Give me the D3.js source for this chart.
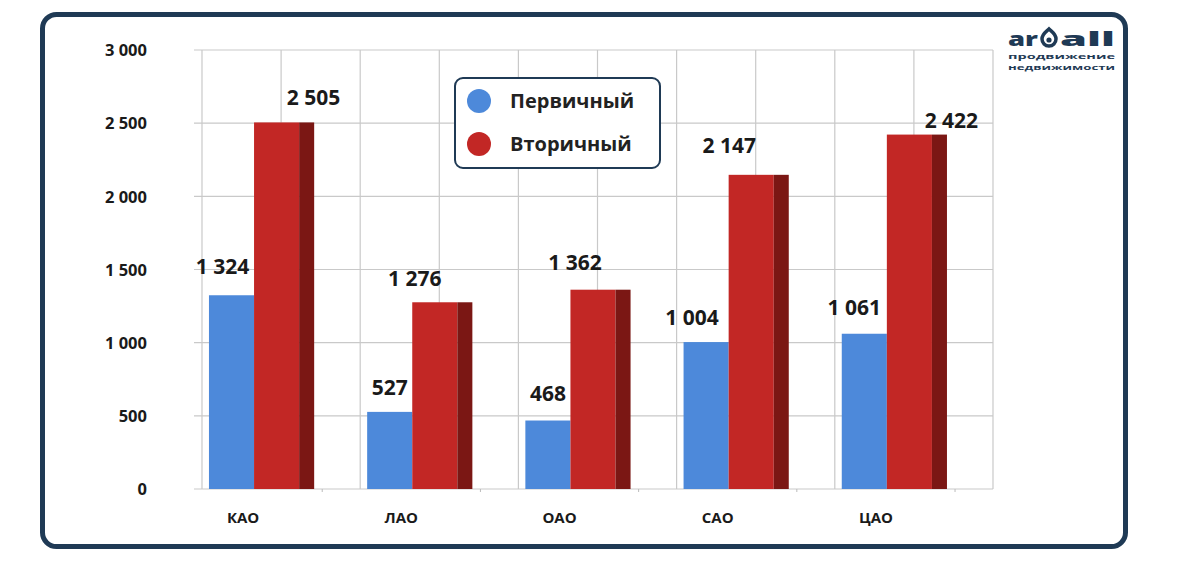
<!DOCTYPE html>
<html><head><meta charset="utf-8">
<script src="https://cdn.jsdelivr.net/npm/d3@7"></script>
<style>html,body{margin:0;padding:0;background:#fff;}svg{display:block;}</style>
</head><body>
<svg id="c" width="1201" height="568"></svg>
<script>
const categories = ["КАО", "ЛАО", "ОАО", "САО", "ЦАО"];
const seriesNames = ["Первичный", "Вторичный"];
const primaryValues = [1324, 527, 468, 1004, 1061];
const secondaryValues = [2505, 1276, 1362, 2147, 2422];
const yTickValues = [0, 500, 1000, 1500, 2000, 2500, 3000];
// label nudges (pixels) relative to bar centre / bar top
const primaryLabelDx = [-9, 0, 0, -14, -10];
const primaryLabelGap = [21, 17, 20, 17, 19];
const secondaryLabelDx = [37, -20, -18, -22, 42];
const secondaryLabelGap = [17, 16, 20, 22, 7];

const colors = {blue: "#4d89da", red: "#c22725", side: "#7b1714", grid: "#c9c9c9", navy: "#1f3a55", text: "#1a1a1a"};
const font = "'Open Sans', 'Noto Sans', sans-serif";

const svg = d3.select("#c");
svg.append("rect").attr("width", 1201).attr("height", 568).attr("fill", "#fff");

// outer frame
svg.append("rect").attr("x", 42.5).attr("y", 14.5).attr("width", 1083).attr("height", 532)
  .attr("rx", 14).attr("fill", "none").attr("stroke", colors.navy).attr("stroke-width", 5);

const pL = 202, pR = 993, pT = 50, pB = 489;
const x = d3.scaleBand().domain(categories).range([pL, pR]).padding(0);
const y = d3.scaleLinear().domain([0, 3000]).range([pB, pT]);
const bw = x.bandwidth();
const fmt = v => d3.format(",")(v).replace(/,/g, " ");

// horizontal grid
svg.append("g").selectAll("line").data(yTickValues).join("line")
  .attr("x1", pL - 8).attr("x2", pR).attr("y1", d => y(d)).attr("y2", d => y(d))
  .attr("stroke", colors.grid).attr("stroke-width", 1.2);
// vertical grid: band edges and midpoints
const vlines = [];
categories.forEach(c => { vlines.push(x(c)); vlines.push(x(c) + bw / 2); });
vlines.push(pR);
svg.append("g").selectAll("line").data(vlines).join("line")
  .attr("x1", d => d).attr("x2", d => d).attr("y1", pT).attr("y2", pB)
  .attr("stroke", colors.grid).attr("stroke-width", 1.2);

// y axis labels
const yAxis = d3.axisLeft(y).tickValues(yTickValues).tickFormat(fmt).tickSize(0).tickPadding(0);
const ga = svg.append("g").attr("transform", `translate(147,0)`).call(yAxis);
ga.select(".domain").remove();
ga.selectAll("text").attr("font-family", font).attr("font-weight", 700).attr("font-size", 16.5)
  .attr("fill", colors.text).attr("dy", "0.35em");

// small ticks below axis
svg.append("g").selectAll("line").data(categories).join("line")
  .attr("x1", d => x(d) + bw * 0.76).attr("x2", d => x(d) + bw * 0.76)
  .attr("y1", pB).attr("y2", pB + 3).attr("stroke", "#bbb");

// bars
const bW = bw * 0.285, off1 = bw * 0.044, off2 = off1 + bW, sideW = bw * 0.095;
const g = svg.append("g");
g.selectAll(".p").data(primaryValues).join("rect").attr("class", "p")
  .attr("x", (d, i) => x(categories[i]) + off1).attr("width", bW)
  .attr("y", d => y(d)).attr("height", d => pB - y(d)).attr("fill", colors.blue);
g.selectAll(".s").data(secondaryValues).join("rect").attr("class", "s")
  .attr("x", (d, i) => x(categories[i]) + off2).attr("width", bW)
  .attr("y", d => y(d)).attr("height", d => pB - y(d)).attr("fill", colors.red);
g.selectAll(".sd").data(secondaryValues).join("rect").attr("class", "sd")
  .attr("x", (d, i) => x(categories[i]) + off2 + bW).attr("width", sideW)
  .attr("y", d => y(d)).attr("height", d => pB - y(d)).attr("fill", colors.side);

// value labels
const lab = svg.append("g").attr("font-family", font).attr("font-weight", 700)
  .attr("font-size", 21).attr("fill", colors.text).attr("text-anchor", "middle");
lab.selectAll(".lp").data(primaryValues).join("text").attr("class", "lp")
  .attr("x", (d, i) => x(categories[i]) + off1 + bW / 2 + primaryLabelDx[i])
  .attr("y", (d, i) => y(d) - primaryLabelGap[i]).text(fmt);
lab.selectAll(".ls").data(secondaryValues).join("text").attr("class", "ls")
  .attr("x", (d, i) => x(categories[i]) + off2 + bW / 2 + secondaryLabelDx[i])
  .attr("y", (d, i) => y(d) - secondaryLabelGap[i]).text(fmt);

// category labels
svg.append("g").selectAll("text").data(categories).join("text")
  .attr("x", d => x(d) + bw * 0.26).attr("y", 523).attr("text-anchor", "middle")
  .attr("font-family", font).attr("font-weight", 700).attr("font-size", 15)
  .attr("fill", colors.text).text(d => d);

// legend
const lg = svg.append("g");
lg.append("rect").attr("x", 455).attr("y", 78).attr("width", 205).attr("height", 90).attr("rx", 8)
  .attr("fill", "#fff").attr("stroke", colors.navy).attr("stroke-width", 2);
const legColors = [colors.blue, colors.red];
seriesNames.forEach((n, i) => {
  lg.append("circle").attr("cx", 479).attr("cy", 101 + i * 43).attr("r", 12).attr("fill", legColors[i]);
  lg.append("text").attr("x", 510).attr("y", 108 + i * 43).attr("font-family", font)
    .attr("font-weight", 700).attr("font-size", 20).attr("fill", "#222").text(n);
});

// logo
const logo = svg.append("g").attr("fill", colors.navy).attr("font-family", font).attr("font-weight", 800);
logo.append("text").attr("x", 1008).attr("y", 46).attr("font-size", 20)
  .attr("textLength", 30).attr("lengthAdjust", "spacingAndGlyphs").text("ar");
logo.append("path").attr("d", "M1049,29 C1052,32 1056,34 1056,39 A7,7 0 1,1 1042,39 C1042,34 1046,32 1049,29 Z")
  .attr("fill", "none").attr("stroke", colors.navy).attr("stroke-width", 3.5);
logo.append("circle").attr("cx", 1049).attr("cy", 40).attr("r", 2.6);
logo.append("text").attr("x", 1060).attr("y", 46).attr("font-size", 20)
  .attr("textLength", 55).attr("lengthAdjust", "spacingAndGlyphs").text("all");
logo.append("text").attr("x", 1008).attr("y", 59).attr("font-size", 7.5).attr("font-weight", 700)
  .attr("textLength", 107).attr("lengthAdjust", "spacingAndGlyphs").text("продвижение");
logo.append("text").attr("x", 1008).attr("y", 70).attr("font-size", 7.5).attr("font-weight", 700)
  .attr("textLength", 107).attr("lengthAdjust", "spacingAndGlyphs").text("недвижимости");
</script>
</body></html>
